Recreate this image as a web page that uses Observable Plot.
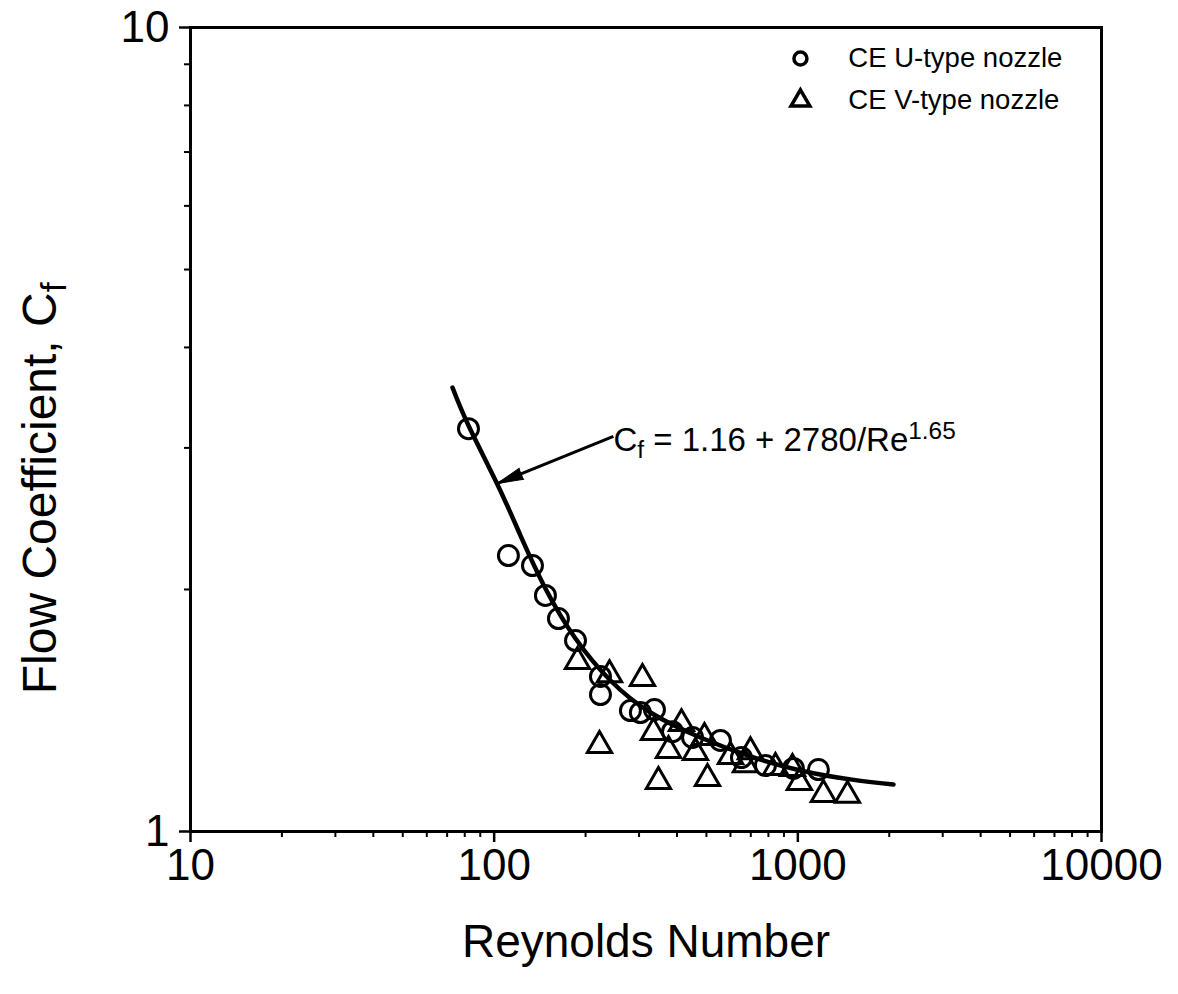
<!DOCTYPE html>
<html><head><meta charset="utf-8">
<script src="https://cdn.jsdelivr.net/npm/d3@7"></script>
<script src="https://cdn.jsdelivr.net/npm/@observablehq/plot@0.6"></script>
<style>
html,body{margin:0;padding:0;background:#fff;}
#chart svg{display:block;}
</style></head><body><div id="chart"></div>
<script>
// CE U-type nozzle (circles)
const uRe = [82.3, 111.4, 133.7, 147.5, 162.8, 185.3, 223.9, 223.9, 281, 303, 337.2, 386.5, 450, 556, 652, 782, 967, 1169];
const uCf = [3.17, 2.204, 2.142, 1.966, 1.840, 1.728, 1.559, 1.480, 1.414, 1.406, 1.418, 1.331, 1.309, 1.298, 1.236, 1.208, 1.198, 1.194];
// CE V-type nozzle (triangles)
const vRe = [188.1, 239.8, 307.8, 222.2, 334.6, 413.8, 375, 347.5, 492.6, 460, 504, 600, 698, 672, 844, 960, 1012, 1214, 1457];
const vCf = [1.627, 1.567, 1.550, 1.279, 1.328, 1.362, 1.261, 1.154, 1.309, 1.254, 1.164, 1.240, 1.257, 1.211, 1.201, 1.198, 1.151, 1.112, 1.109];
// Fitted curve as drawn: Cf = 1.16 + 2780/Re^1.65
const fitRe = [72.9, 82.3, 102.5, 122.1, 147.5, 185.3, 241.5, 327.2, 477.7, 698.2, 1020, 1490, 2065];
const fitCf = [3.566, 3.199, 2.702, 2.334, 2.006, 1.738, 1.541, 1.406, 1.309, 1.240, 1.191, 1.161, 1.144];
// Tick values
const xMajor = [10, 100, 1000, 10000];
const xMinor = [20,30,40,50,60,70,80,90,200,300,400,500,600,700,800,900,2000,3000,4000,5000,6000,7000,8000,9000];
const yMajor = [1, 10];
const yMinor = [2,3,4,5,6,7,8,9];
// Texts
const xTitle = "Reynolds Number";
const yTitle = "Flow Coefficient, C_{f}";
const equation = "C_{f} = 1.16 + 2780/Re^{1.65}";
const legendLabels = ["CE U-type nozzle", "CE V-type nozzle"];
// Annotation anchors (data space)
const arrowTail = {re: 247, cf: 3.10};
const arrowTip = {re: 102.5, cf: 2.71};
const equationAt = {re: 247, cf: 3.064};
const legendSymRe = 1020, legendTextRe = 1467;
const legendCf = [9.15, 8.11];
const yTitleCf = 2.672;

const fam = '"Liberation Sans", Arial, Helvetica, sans-serif';
const U = uRe.map((re, i) => ({re, cf: uCf[i]}));
const V = vRe.map((re, i) => ({re, cf: vCf[i]}));
const fit = fitRe.map((re, i) => ({re, cf: fitCf[i]}));

const chart = Plot.plot({
  width: 1178, height: 994,
  marginLeft: 190, marginRight: 77, marginTop: 27, marginBottom: 163,
  x: {type: "log", domain: [10, 10000], label: null},
  y: {type: "log", domain: [1, 10], label: null},
  style: {fontFamily: fam, background: "white", color: "black"},
  marks: [
    Plot.frame({stroke: "black", strokeWidth: 3}),
    Plot.axisX({ticks: xMajor, tickSize: 11, tickPadding: 6, tickFormat: d => String(d), fontSize: 44, strokeWidth: 2.5, label: null}),
    Plot.axisX({ticks: xMinor, tickSize: 6, tickFormat: () => "", strokeWidth: 2, label: null}),
    Plot.axisY({ticks: yMajor, tickSize: 11, tickPadding: 10, tickFormat: d => String(d), fontSize: 44, strokeWidth: 2.5, label: null}),
    Plot.axisY({ticks: yMinor, tickSize: 6, tickFormat: () => "", strokeWidth: 2, label: null}),
    Plot.line(fit, {x: "re", y: "cf", stroke: "black", strokeWidth: 4.5, curve: "natural"}),
    Plot.link([0], {x1: () => arrowTail.re, y1: () => arrowTail.cf, x2: () => arrowTip.re, y2: () => arrowTip.cf, stroke: "black", strokeWidth: 3}),
    Plot.vector([arrowTip], {x: "re", y: "cf", rotate: 248.3, length: 26, r: 6, shape: "spike", anchor: "end", fill: "black", stroke: "black", strokeWidth: 1}),
    Plot.dot(U, {x: "re", y: "cf", r: 10, stroke: "black", strokeWidth: 3, fill: "none"}),
    Plot.dot(V, {x: "re", y: "cf", symbol: "triangle", r: 9, stroke: "black", strokeWidth: 3, fill: "none"}),
    // legend
    Plot.dot([legendCf[0]], {x: () => legendSymRe, y: d => d, r: 6.5, stroke: "black", strokeWidth: 3.5, fill: "none"}),
    Plot.dot([legendCf[1]], {x: () => legendSymRe, y: d => d, symbol: "triangle", r: 7, stroke: "black", strokeWidth: 3.5, fill: "none"}),
    Plot.text(legendLabels, {x: () => legendTextRe, y: (d, i) => legendCf[i], text: d => d, textAnchor: "start", fontSize: 27.5, fill: "black"}),
    // equation
    Plot.text([equation], {x: () => equationAt.re, y: () => equationAt.cf, text: d => d, textAnchor: "start", fontSize: 33, fill: "black"}),
    // axis titles
    Plot.text([xTitle], {frameAnchor: "bottom", dy: 111, lineAnchor: "middle", textAnchor: "middle", text: d => d, fontSize: 46, fill: "black"}),
    Plot.text([yTitle], {frameAnchor: "left", y: () => yTitleCf, dx: -150, rotate: -90, textAnchor: "middle", lineAnchor: "middle", text: d => d, fontSize: 48, fill: "black"})
  ]
});

// Sub/superscripts: replace _{..} and ^{..} markers with tspans
d3.select(chart).selectAll("text").each(function() {
  const t = this.textContent;
  if (!/[_^]\{/.test(t)) return;
  let fs = parseFloat(this.getAttribute("font-size"));
  if (!fs) fs = parseFloat(this.parentNode.getAttribute("font-size")) || 30;
  const el = d3.select(this);
  el.text(null);
  const re = /([_^])\{([^}]*)\}/g;
  let last = 0, m;
  while ((m = re.exec(t)) !== null) {
    if (m.index > last) el.append("tspan").text(t.slice(last, m.index));
    el.append("tspan")
      .attr("font-size", fs * 0.74)
      .attr("baseline-shift", m[1] === "_" ? "-28%" : "50%")
      .text(m[2]);
    last = re.lastIndex;
  }
  if (last < t.length) el.append("tspan").text(t.slice(last));
});

document.getElementById("chart").append(chart);
</script></body></html>
